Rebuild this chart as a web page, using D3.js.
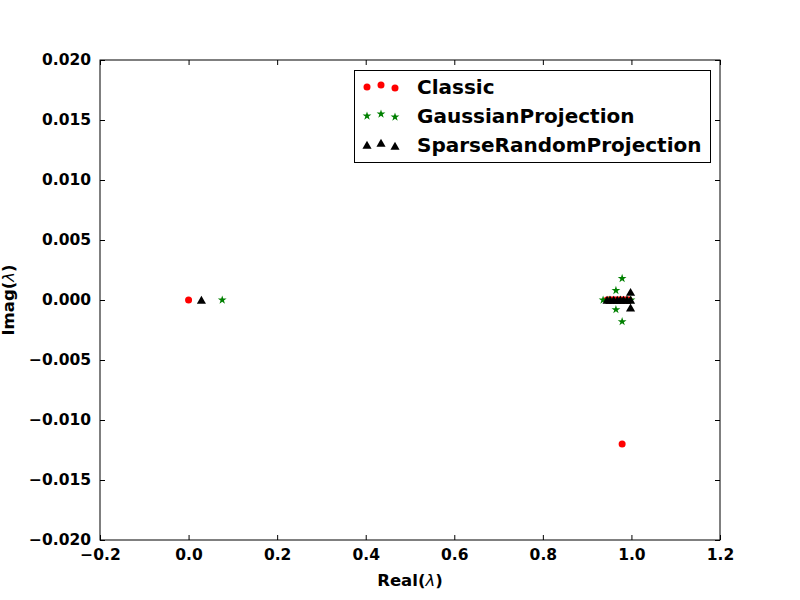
<!DOCTYPE html>
<html>
<head>
<meta charset="utf-8">
<script src="https://cdn.jsdelivr.net/npm/d3@7"></script>
<style>
  body { margin: 0; background: #fff; }
  text { font-family: "DejaVu Sans", sans-serif; font-weight: bold; }
</style>
</head>
<body>
<script>
'use strict';

// eigenvalues (real, imag) per method
const classicRe = [0.0, 0.945, 0.95, 0.955, 0.96, 0.965, 0.97, 0.975, 0.98, 0.985, 0.99, 0.995, 0.979];
const classicIm = [0, 0, 0, 0, 0, 0, 0, 0, 0, 0, 0, 0, -0.012];
const gaussRe = [0.076, 0.936, 0.999, 0.979, 0.979, 0.965, 0.965, 0.95, 0.975, 0.99];
const gaussIm = [0, 0, 0, 0.0018, -0.0018, 0.0008, -0.0008, 0, 0, 0];
const sparseRe = [0.029, 0.945, 0.952, 0.96, 0.968, 0.975, 0.982, 0.99, 0.998, 0.998, 0.998];
const sparseIm = [0, 0, 0, 0, 0, 0, 0, 0, 0, 0.00065, -0.00065];

const xTicks = [-0.2, 0.0, 0.2, 0.4, 0.6, 0.8, 1.0, 1.2];
const yTicks = [-0.020, -0.015, -0.010, -0.005, 0.000, 0.005, 0.010, 0.015, 0.020];
const legendNames = ["Classic", "GaussianProjection", "SparseRandomProjection"];

(function() {
  const width = 800, height = 600;
  const left = 100, right = 720, top = 60, bottom = 540;

  const svg = d3.select("body").append("svg")
    .attr("width", width)
    .attr("height", height);

  const x = d3.scaleLinear().domain([-0.2, 1.2]).range([left, right]);
  const y = d3.scaleLinear().domain([-0.02, 0.02]).range([bottom, top]);

  const fmt = (d) => d.toFixed(1).replace("-", "\u2212");
  const fmtY = (d) => d.toFixed(3).replace("-", "\u2212");

  // axes with inward ticks on all sides
  const tl = 5;
  svg.append("g").attr("transform", "translate(0," + bottom + ")")
    .call(d3.axisBottom(x).tickValues(xTicks).tickFormat(fmt).tickSizeInner(-tl).tickSizeOuter(0).tickPadding(9));
  svg.append("g").attr("transform", "translate(0," + top + ")")
    .call(d3.axisTop(x).tickValues(xTicks).tickFormat("").tickSizeInner(-tl).tickSizeOuter(0));
  svg.append("g").attr("transform", "translate(" + left + ",0)")
    .call(d3.axisLeft(y).tickValues(yTicks).tickFormat(fmtY).tickSizeInner(-tl).tickSizeOuter(0).tickPadding(9));
  svg.append("g").attr("transform", "translate(" + right + ",0)")
    .call(d3.axisRight(y).tickValues(yTicks).tickFormat("").tickSizeInner(-tl).tickSizeOuter(0));

  svg.selectAll(".domain").remove();
  svg.selectAll(".tick text").attr("font-size", 15.5).attr("font-weight", "bold")
    .attr("font-family", "DejaVu Sans").attr("fill", "#000");
  svg.selectAll(".tick line").attr("stroke", "#000");

  svg.append("rect")
    .attr("x", left).attr("y", top)
    .attr("width", right - left).attr("height", bottom - top)
    .attr("fill", "none").attr("stroke", "#000").attr("stroke-width", 1);

  const star = d3.symbol().type(d3.symbolStar).size(24);
  const tri = d3.symbol().type(d3.symbolTriangle).size(36);

  const classic = classicRe.map((r, i) => ({ re: r, im: classicIm[i] }));
  const gauss = gaussRe.map((r, i) => ({ re: r, im: gaussIm[i] }));
  const sparse = sparseRe.map((r, i) => ({ re: r, im: sparseIm[i] }));

  svg.append("g").selectAll("circle").data(classic).enter().append("circle")
    .attr("cx", (d) => x(d.re)).attr("cy", (d) => y(d.im))
    .attr("r", 3.5).attr("fill", "red");

  svg.append("g").selectAll("path").data(gauss).enter().append("path")
    .attr("d", star)
    .attr("transform", (d) => "translate(" + x(d.re) + "," + y(d.im) + ")")
    .attr("fill", "green");

  svg.append("g").selectAll("path").data(sparse).enter().append("path")
    .attr("d", tri)
    .attr("transform", (d) => "translate(" + x(d.re) + "," + (y(d.im) + 1) + ")")
    .attr("fill", "#000");

  // legend
  const lg = svg.append("g");
  lg.append("rect")
    .attr("x", 354.5).attr("y", 70.5).attr("width", 356).attr("height", 92)
    .attr("fill", "#fff").attr("stroke", "#000");
  const rowY = [87, 116, 145];
  const markX = [367, 381, 395];
  const markOff = [0, -2, 1];
  legendNames.forEach((name, i) => {
    markX.forEach((mx, j) => {
      const cy = rowY[i] + markOff[j];
      if (i === 0) {
        lg.append("circle").attr("cx", mx).attr("cy", cy).attr("r", 3.5).attr("fill", "red");
      } else if (i === 1) {
        lg.append("path").attr("d", star).attr("transform", "translate(" + mx + "," + cy + ")").attr("fill", "green");
      } else {
        lg.append("path").attr("d", tri).attr("transform", "translate(" + mx + "," + (cy + 1) + ")").attr("fill", "#000");
      }
    });
    lg.append("text")
      .attr("x", 417).attr("y", rowY[i] + 7)
      .attr("font-size", 20)
      .text(name);
  });

  // axis labels
  const xl = svg.append("text")
    .attr("x", (left + right) / 2).attr("y", 586)
    .attr("text-anchor", "middle").attr("font-size", 16.5);
  xl.append("tspan").text("Real(");
  xl.append("tspan").attr("font-style", "italic").attr("font-weight", "normal").text("\u03bb");
  xl.append("tspan").text(")");

  const yl = svg.append("text")
    .attr("transform", "translate(14," + ((top + bottom) / 2) + ")rotate(-90)")
    .attr("text-anchor", "middle").attr("font-size", 16.5);
  yl.append("tspan").text("Imag(");
  yl.append("tspan").attr("font-style", "italic").attr("font-weight", "normal").text("\u03bb");
  yl.append("tspan").text(")");
})();
</script>
</body>
</html>
